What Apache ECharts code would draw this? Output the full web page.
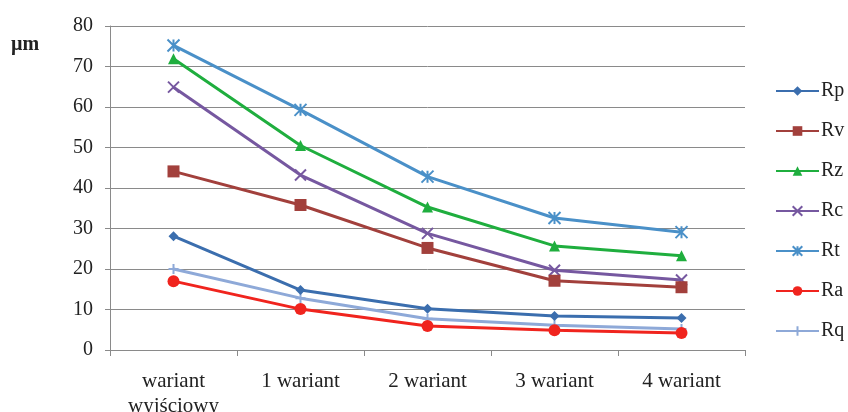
<!DOCTYPE html>
<html>
<head>
<meta charset="utf-8">
<script src="https://cdn.jsdelivr.net/npm/echarts@6/dist/echarts.min.js"></script>
<style>
html,body{margin:0;padding:0;background:#fff;}
#chart{width:848px;height:412px;}
</style>
</head>
<body>
<div id="chart"></div>
<script>
var categories = ['wariant\nwyjściowy', '1 wariant', '2 wariant', '3 wariant', '4 wariant'];
var seriesNames = ['Rp', 'Rv', 'Rz', 'Rc', 'Rt', 'Ra', 'Rq'];
var Rp = [28.1, 14.8, 10.2, 8.4, 7.9];
var Rv = [44.1, 35.8, 25.2, 17.1, 15.5];
var Rz = [71.9, 50.5, 35.3, 25.7, 23.3];
var Rc = [64.9, 43.2, 28.8, 19.7, 17.3];
var Rt = [75.2, 59.3, 42.8, 32.6, 29.1];
var Ra = [17.0, 10.1, 5.9, 4.9, 4.2];
var Rq = [20.0, 12.8, 7.7, 6.1, 5.2];
var yTicks = [0, 10, 20, 30, 40, 50, 60, 70, 80];

var colors = ['#3b6eae', '#a2403c', '#1fae3e', '#7658a0', '#4a90c8', '#f0241e', '#8ea9d8'];
var symbols = [
    'diamond',
    'rect',
    'triangle',
    'path://M0,0L10,10M10,0L0,10',
    'path://M0,0L10,10M10,0L0,10M5,0L5,10',
    'circle',
    'path://M5,0L5,10M0,5L10,5'
];
var sizes = [10, 12, 11, 11, 12, 12, 10];
var dataList = [Rp, Rv, Rz, Rc, Rt, Ra, Rq];
var font = '"Liberation Serif", "DejaVu Serif", serif';

var myChart = echarts.init(document.getElementById('chart'));

var series = seriesNames.map(function(name, i){
    var stroked = symbols[i].indexOf('path://') === 0;
    return {
        name: name,
        type: 'line',
        data: dataList[i],
        symbol: symbols[i],
        symbolSize: sizes[i],
        showAllSymbol: true,
        lineStyle: {color: colors[i], width: 3},
        itemStyle: stroked
            ? {color: colors[i], borderColor: colors[i], borderWidth: 2}
            : {color: colors[i]},
        emphasis: {disabled: true},
        z: 10 - i
    };
});

myChart.setOption({
    animation: false,
    backgroundColor: '#fff',
    color: colors,
    textStyle: {fontFamily: font},
    grid: {left: 110, right: 103, top: 26, bottom: 62, containLabel: false, outerBoundsMode: 'none'},
    graphic: [{
        type: 'text',
        left: 11,
        top: 35,
        style: {text: 'µm', font: 'bold 20px ' + font, fill: '#222'}
    }],
    legend: {
        orient: 'vertical',
        left: 770,
        top: 76,
        itemWidth: 43,
        itemHeight: 12,
        itemGap: 20,
        data: seriesNames,
        textStyle: {fontFamily: font, fontSize: 20, color: '#222', padding: [0, 0, 0, -3]}
    },
    xAxis: {
        type: 'category',
        data: categories,
        boundaryGap: true,
        axisLine: {lineStyle: {color: '#8a8a8a', width: 1}},
        axisTick: {show: true, alignWithLabel: false, length: 6, lineStyle: {color: '#8a8a8a'}},
        axisLabel: {fontFamily: font, fontSize: 21, color: '#222', margin: 19, lineHeight: 25, interval: 0}
    },
    yAxis: {
        type: 'value',
        min: yTicks[0],
        max: yTicks[yTicks.length - 1],
        interval: 10,
        axisLine: {show: true, lineStyle: {color: '#8a8a8a', width: 1}},
        axisTick: {show: true, length: 5, lineStyle: {color: '#8a8a8a'}},
        axisLabel: {fontFamily: font, fontSize: 20, color: '#222', margin: 17},
        splitLine: {lineStyle: {color: '#8a8a8a', width: 1}}
    },
    series: series
});

window.onresize = function(){
    myChart.resize();
};
</script>
</body>
</html>
